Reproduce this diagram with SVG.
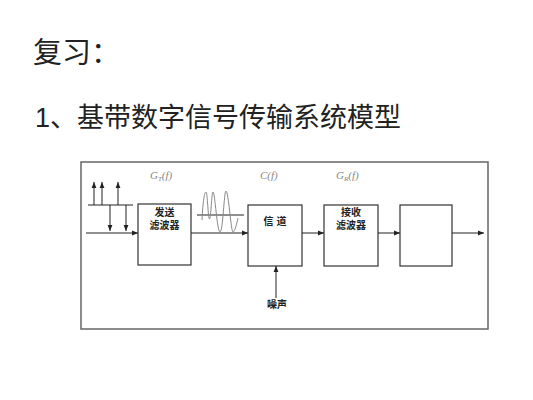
<svg xmlns="http://www.w3.org/2000/svg" width="533" height="400" viewBox="0 0 533 400">
<defs>
<marker id="ah" viewBox="0 0 10 10" refX="10" refY="5" markerWidth="6" markerHeight="6" orient="auto" markerUnits="userSpaceOnUse">
<path d="M0,1 L10,5 L0,9 Z" fill="#222"/>
</marker>
</defs>
<style>
.t{font-family:"Liberation Sans","Noto Sans CJK SC",sans-serif;fill:#222}
.b{fill:#fff;stroke:#333;stroke-width:1.2}
.c{stroke:#222;stroke-width:1;fill:none}
.lab{font-family:"Liberation Serif",serif;font-style:italic;fill:#888;font-size:11px}
.bt{font-family:"Liberation Sans","Noto Sans CJK SC",sans-serif;font-weight:bold;font-size:10px;fill:#222;text-anchor:middle}
</style>
<rect width="533" height="400" fill="#fff"/>
<text class="t" x="33" y="63" font-size="29">复习：</text>
<text class="t" x="35" y="127" font-size="27">1、基带数字信号传输系统模型</text>
<rect x="81" y="162" width="407" height="167" fill="none" stroke="#666" stroke-width="1.5"/>
<g id="labels">
<text class="lab" x="150" y="179">G<tspan font-size="7" dy="2">T</tspan><tspan dy="-2">(f)</tspan></text>
<text class="lab" x="260" y="179">C(f)</text>
<text class="lab" x="336" y="179">G<tspan font-size="7" dy="2">R</tspan><tspan dy="-2">(f)</tspan></text>
</g>
<g id="n1"><rect class="b" x="138" y="204" width="53" height="61"/><text class="bt" x="164.5" y="216">发送</text><text class="bt" x="164.5" y="229">滤波器</text></g>
<g id="n2"><rect class="b" x="248" y="205" width="54" height="61"/><text class="bt" x="275" y="225">信 道</text></g>
<g id="n3"><rect class="b" x="324" y="205" width="54" height="61"/><text class="bt" x="351" y="216">接收</text><text class="bt" x="351" y="229">滤波器</text></g>
<g id="n4"><rect class="b" x="400" y="205" width="52" height="61"/></g>
<g id="noise"><text class="bt" x="277" y="308" font-weight="normal">噪声</text></g>
<g id="connectors">
<line class="c" x1="86" y1="233" x2="138" y2="233" marker-end="url(#ah)"/>
<line class="c" x1="191" y1="233" x2="248" y2="233" marker-end="url(#ah)"/>
<line class="c" x1="302" y1="233" x2="324" y2="233" marker-end="url(#ah)"/>
<line class="c" x1="378" y1="233" x2="400" y2="233" marker-end="url(#ah)"/>
<line class="c" x1="452" y1="233" x2="484" y2="233" marker-end="url(#ah)"/>
<line class="c" x1="276" y1="298" x2="276" y2="266" marker-end="url(#ah)"/>
<line class="c" x1="88" y1="205" x2="133" y2="205"/>
<line class="c" x1="94" y1="205" x2="94" y2="182" marker-end="url(#ah)"/>
<line class="c" x1="102" y1="205" x2="102" y2="182" marker-end="url(#ah)"/>
<line class="c" x1="118" y1="205" x2="118" y2="182" marker-end="url(#ah)"/>
<line class="c" x1="110" y1="205" x2="110" y2="231" marker-end="url(#ah)"/>
<line class="c" x1="126" y1="205" x2="126" y2="231" marker-end="url(#ah)"/>
<line class="c" x1="197" y1="215" x2="244" y2="215"/>
<path d="M202,220 C203,200 204.5,192 206,192 C207.5,192 208,219 209.5,219 C211,219 211.5,192 213,192 C215,192 217,232 220,232 C223,232 224,191 226,191 C228.5,191 231,232 233,232 C235,232 237,222 238,218" fill="none" stroke="#888" stroke-width="1"/>
</g>
</svg>
